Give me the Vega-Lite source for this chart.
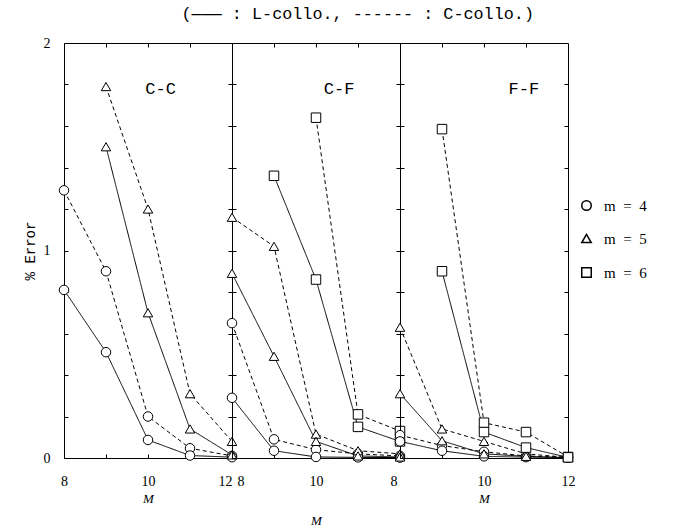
{
  "$schema": "https://vega.github.io/schema/vega-lite/v6.json",
  "background": "white",
  "padding": {"left": 22, "top": 5, "right": 5, "bottom": 5},
  "title": {
    "text": "(——— : L-collo., ------ : C-collo.)",
    "font": "Liberation Mono",
    "fontSize": 16.8,
    "fontWeight": "normal",
    "color": "black",
    "anchor": "start",
    "dx": 159,
    "offset": 13
  },
  "data": {
    "values": [
      {"panel": "C-C", "m": 4, "method": "C", "M": 8, "err": 1.29},
      {"panel": "C-C", "m": 4, "method": "C", "M": 9, "err": 0.9},
      {"panel": "C-C", "m": 4, "method": "C", "M": 10, "err": 0.2},
      {"panel": "C-C", "m": 4, "method": "C", "M": 11, "err": 0.047},
      {"panel": "C-C", "m": 4, "method": "C", "M": 12, "err": 0.01},
      {"panel": "C-C", "m": 4, "method": "L", "M": 8, "err": 0.81},
      {"panel": "C-C", "m": 4, "method": "L", "M": 9, "err": 0.51},
      {"panel": "C-C", "m": 4, "method": "L", "M": 10, "err": 0.087},
      {"panel": "C-C", "m": 4, "method": "L", "M": 11, "err": 0.012},
      {"panel": "C-C", "m": 4, "method": "L", "M": 12, "err": 0.004},
      {"panel": "C-C", "m": 5, "method": "C", "M": 9, "err": 1.79},
      {"panel": "C-C", "m": 5, "method": "C", "M": 10, "err": 1.2},
      {"panel": "C-C", "m": 5, "method": "C", "M": 11, "err": 0.31},
      {"panel": "C-C", "m": 5, "method": "C", "M": 12, "err": 0.08},
      {"panel": "C-C", "m": 5, "method": "L", "M": 9, "err": 1.5},
      {"panel": "C-C", "m": 5, "method": "L", "M": 10, "err": 0.7},
      {"panel": "C-C", "m": 5, "method": "L", "M": 11, "err": 0.14},
      {"panel": "C-C", "m": 5, "method": "L", "M": 12, "err": 0.015},

      {"panel": "C-F", "m": 4, "method": "C", "M": 8, "err": 0.65},
      {"panel": "C-F", "m": 4, "method": "C", "M": 9, "err": 0.09},
      {"panel": "C-F", "m": 4, "method": "C", "M": 10, "err": 0.04},
      {"panel": "C-F", "m": 4, "method": "C", "M": 11, "err": 0.02},
      {"panel": "C-F", "m": 4, "method": "C", "M": 12, "err": 0.01},
      {"panel": "C-F", "m": 4, "method": "L", "M": 8, "err": 0.29},
      {"panel": "C-F", "m": 4, "method": "L", "M": 9, "err": 0.035},
      {"panel": "C-F", "m": 4, "method": "L", "M": 10, "err": 0.005},
      {"panel": "C-F", "m": 4, "method": "L", "M": 11, "err": 0.003},
      {"panel": "C-F", "m": 4, "method": "L", "M": 12, "err": 0.002},
      {"panel": "C-F", "m": 5, "method": "C", "M": 8, "err": 1.16},
      {"panel": "C-F", "m": 5, "method": "C", "M": 9, "err": 1.02},
      {"panel": "C-F", "m": 5, "method": "C", "M": 10, "err": 0.115},
      {"panel": "C-F", "m": 5, "method": "C", "M": 11, "err": 0.035},
      {"panel": "C-F", "m": 5, "method": "C", "M": 12, "err": 0.02},
      {"panel": "C-F", "m": 5, "method": "L", "M": 8, "err": 0.89},
      {"panel": "C-F", "m": 5, "method": "L", "M": 9, "err": 0.49},
      {"panel": "C-F", "m": 5, "method": "L", "M": 10, "err": 0.08},
      {"panel": "C-F", "m": 5, "method": "L", "M": 11, "err": 0.01},
      {"panel": "C-F", "m": 5, "method": "L", "M": 12, "err": 0.005},
      {"panel": "C-F", "m": 6, "method": "C", "M": 10, "err": 1.64},
      {"panel": "C-F", "m": 6, "method": "C", "M": 11, "err": 0.21},
      {"panel": "C-F", "m": 6, "method": "C", "M": 12, "err": 0.13},
      {"panel": "C-F", "m": 6, "method": "L", "M": 9, "err": 1.36},
      {"panel": "C-F", "m": 6, "method": "L", "M": 10, "err": 0.86},
      {"panel": "C-F", "m": 6, "method": "L", "M": 11, "err": 0.15},
      {"panel": "C-F", "m": 6, "method": "L", "M": 12, "err": 0.08},

      {"panel": "F-F", "m": 4, "method": "C", "M": 8, "err": 0.11},
      {"panel": "F-F", "m": 4, "method": "C", "M": 9, "err": 0.06},
      {"panel": "F-F", "m": 4, "method": "C", "M": 10, "err": 0.03},
      {"panel": "F-F", "m": 4, "method": "C", "M": 11, "err": 0.01},
      {"panel": "F-F", "m": 4, "method": "C", "M": 12, "err": 0.003},
      {"panel": "F-F", "m": 4, "method": "L", "M": 8, "err": 0.08},
      {"panel": "F-F", "m": 4, "method": "L", "M": 9, "err": 0.035},
      {"panel": "F-F", "m": 4, "method": "L", "M": 10, "err": 0.008},
      {"panel": "F-F", "m": 4, "method": "L", "M": 11, "err": 0.004},
      {"panel": "F-F", "m": 4, "method": "L", "M": 12, "err": 0.002},
      {"panel": "F-F", "m": 5, "method": "C", "M": 8, "err": 0.63},
      {"panel": "F-F", "m": 5, "method": "C", "M": 9, "err": 0.14},
      {"panel": "F-F", "m": 5, "method": "C", "M": 10, "err": 0.08},
      {"panel": "F-F", "m": 5, "method": "C", "M": 11, "err": 0.02},
      {"panel": "F-F", "m": 5, "method": "C", "M": 12, "err": 0.003},
      {"panel": "F-F", "m": 5, "method": "L", "M": 8, "err": 0.31},
      {"panel": "F-F", "m": 5, "method": "L", "M": 9, "err": 0.083},
      {"panel": "F-F", "m": 5, "method": "L", "M": 10, "err": 0.02},
      {"panel": "F-F", "m": 5, "method": "L", "M": 11, "err": 0.008},
      {"panel": "F-F", "m": 5, "method": "L", "M": 12, "err": 0.002},
      {"panel": "F-F", "m": 6, "method": "C", "M": 9, "err": 1.585},
      {"panel": "F-F", "m": 6, "method": "C", "M": 10, "err": 0.17},
      {"panel": "F-F", "m": 6, "method": "C", "M": 11, "err": 0.125},
      {"panel": "F-F", "m": 6, "method": "C", "M": 12, "err": 0.005},
      {"panel": "F-F", "m": 6, "method": "L", "M": 9, "err": 0.9},
      {"panel": "F-F", "m": 6, "method": "L", "M": 10, "err": 0.125},
      {"panel": "F-F", "m": 6, "method": "L", "M": 11, "err": 0.05},
      {"panel": "F-F", "m": 6, "method": "L", "M": 12, "err": 0.003}
    ]
  },
  "spacing": 0,
  "bounds": "flush",
  "hconcat": [
    {
      "width": 168,
      "height": 415,
      "layer": [
        {
          "transform": [{"filter": "datum.panel === 'C-C'"}],
          "mark": {"type": "line", "color": "black", "strokeWidth": 1},
          "encoding": {
            "x": {"field": "M", "type": "quantitative", "scale": {"domain": [8, 12]},
              "axis": {"orient": "bottom", "values": [8, 9, 10, 11, 12], "tickSize": 4, "offset": -4,
                "labelExpr": "datum.value % 2 === 0 ? datum.label : ''",
                "labelAlign": {"condition": {"test": "datum.value === 12", "value": "right"}, "value": "center"},
                "labelPadding": 16, "title": "M", "titlePadding": 4}},
            "y": {"field": "err", "type": "quantitative", "scale": {"domain": [0, 2]},
              "axis": {"orient": "left", "values": [0, 0.2, 0.4, 0.6, 0.8, 1, 1.2, 1.4, 1.6, 1.8, 2],
                "tickSize": 4, "offset": -4, "labelOverlap": false,
                "labelExpr": "datum.value === 0 ? '0' : datum.value === 1 ? '1' : datum.value === 2 ? '2' : ''",
                "labelFontSize": {"condition": {"test": "datum.value === 0 || datum.value === 1 || datum.value === 2", "value": 14}, "value": 1},
                "labelPadding": 14, "title": "% Error", "titlePadding": 6}},
            "detail": {"field": "m"},
            "strokeDash": {"field": "method", "type": "nominal", "scale": {"domain": ["L", "C"], "range": [[1, 0], [4, 3]]}, "legend": null}
          }
        },
        {
          "transform": [{"filter": "datum.panel === 'C-C'"}],
          "mark": {"type": "point", "filled": false, "fill": "white", "fillOpacity": 1, "stroke": "black", "strokeWidth": 1, "size": 90, "opacity": 1},
          "encoding": {
            "x": {"field": "M", "type": "quantitative",
              "axis": {"orient": "top", "values": [9, 10, 11], "tickSize": 4, "offset": -4, "labels": false, "title": null}},
            "y": {"field": "err", "type": "quantitative",
              "axis": {"orient": "right", "values": [0.2, 0.4, 0.6, 0.8, 1, 1.2, 1.4, 1.6, 1.8], "tickSize": 4, "labels": false, "title": null}},
            "shape": {"field": "m", "type": "nominal",
              "scale": {"domain": [4, 5, 6], "range": ["circle", "triangle-up", "square"]},
              "legend": {"title": null, "orient": "none", "legendX": 515, "legendY": 155, "labelExpr": "'m\u2002=\u2002' + datum.label",
                "encode": {"symbols": {"enter": {"stroke": {"value": "black"}, "fill": {"value": "white"}, "strokeWidth": {"value": 1}}, "update": {"stroke": {"value": "black"}, "fill": {"value": "white"}, "strokeWidth": {"value": 1}, "opacity": {"value": 1}}}}}}
          }
        },
        {
          "data": {"values": [{"label": "C-C"}]},
          "mark": {"type": "text", "font": "Liberation Mono", "fontSize": 17, "color": "black"},
          "encoding": {"x": {"datum": 10.3, "type": "quantitative", "axis": null}, "y": {"datum": 1.78, "type": "quantitative", "axis": null}, "text": {"field": "label"}}
        }
      ]
    },
    {
      "width": 168,
      "height": 415,
      "layer": [
        {
          "transform": [{"filter": "datum.panel === 'C-F'"}],
          "mark": {"type": "line", "color": "black", "strokeWidth": 1},
          "encoding": {
            "x": {"field": "M", "type": "quantitative", "scale": {"domain": [8, 12]},
              "axis": {"orient": "bottom", "values": [8, 9, 10, 11, 12], "tickSize": 4, "offset": -4,
                "labelExpr": "datum.value === 8 || datum.value === 10 ? datum.label : ''",
                "labelAlign": {"condition": {"test": "datum.value === 8", "value": "left"}, "value": "center"},
                "labelOffset": {"condition": {"test": "datum.value === 8", "value": 5}, "value": 0},
                "labelPadding": 16, "title": "M", "titlePadding": 26}},
            "y": {"field": "err", "type": "quantitative", "scale": {"domain": [0, 2]},
              "axis": {"orient": "left", "values": [0.2, 0.4, 0.6, 0.8, 1, 1.2, 1.4, 1.6, 1.8], "tickSize": 4, "labels": false, "title": null}},
            "detail": {"field": "m"},
            "strokeDash": {"field": "method", "type": "nominal", "scale": {"domain": ["L", "C"], "range": [[1, 0], [4, 3]]}, "legend": null}
          }
        },
        {
          "transform": [{"filter": "datum.panel === 'C-F'"}],
          "mark": {"type": "point", "filled": false, "fill": "white", "fillOpacity": 1, "stroke": "black", "strokeWidth": 1, "size": 90, "opacity": 1},
          "encoding": {
            "x": {"field": "M", "type": "quantitative",
              "axis": {"orient": "top", "values": [9, 10, 11], "tickSize": 4, "offset": -4, "labels": false, "title": null}},
            "y": {"field": "err", "type": "quantitative",
              "axis": {"orient": "right", "values": [0.2, 0.4, 0.6, 0.8, 1, 1.2, 1.4, 1.6, 1.8], "tickSize": 4, "labels": false, "title": null}},
            "shape": {"field": "m", "type": "nominal",
              "scale": {"domain": [4, 5, 6], "range": ["circle", "triangle-up", "square"]},
              "legend": {"title": null, "orient": "none", "legendX": 515, "legendY": 155, "labelExpr": "'m\u2002=\u2002' + datum.label",
                "encode": {"symbols": {"enter": {"stroke": {"value": "black"}, "fill": {"value": "white"}, "strokeWidth": {"value": 1}}, "update": {"stroke": {"value": "black"}, "fill": {"value": "white"}, "strokeWidth": {"value": 1}, "opacity": {"value": 1}}}}}}
          }
        },
        {
          "data": {"values": [{"label": "C-F"}]},
          "mark": {"type": "text", "font": "Liberation Mono", "fontSize": 17, "color": "black"},
          "encoding": {"x": {"datum": 10.55, "type": "quantitative", "axis": null}, "y": {"datum": 1.78, "type": "quantitative", "axis": null}, "text": {"field": "label"}}
        }
      ]
    },
    {
      "width": 168,
      "height": 415,
      "layer": [
        {
          "transform": [{"filter": "datum.panel === 'F-F'"}],
          "mark": {"type": "line", "color": "black", "strokeWidth": 1},
          "encoding": {
            "x": {"field": "M", "type": "quantitative", "scale": {"domain": [8, 12]},
              "axis": {"orient": "bottom", "values": [8, 9, 10, 11, 12], "tickSize": 4, "offset": -4,
                "labelExpr": "datum.value % 2 === 0 ? datum.label : ''",
                "labelAlign": {"condition": {"test": "datum.value === 8", "value": "right"}, "value": "center"},
                "labelOffset": {"condition": {"test": "datum.value === 8", "value": -3}, "value": 0},
                "labelPadding": 16, "title": "M", "titlePadding": 4}},
            "y": {"field": "err", "type": "quantitative", "scale": {"domain": [0, 2]},
              "axis": {"orient": "left", "values": [0.2, 0.4, 0.6, 0.8, 1, 1.2, 1.4, 1.6, 1.8], "tickSize": 4, "labels": false, "title": null}},
            "detail": {"field": "m"},
            "strokeDash": {"field": "method", "type": "nominal", "scale": {"domain": ["L", "C"], "range": [[1, 0], [4, 3]]}, "legend": null}
          }
        },
        {
          "transform": [{"filter": "datum.panel === 'F-F'"}],
          "mark": {"type": "point", "filled": false, "fill": "white", "fillOpacity": 1, "stroke": "black", "strokeWidth": 1, "size": 90, "opacity": 1},
          "encoding": {
            "x": {"field": "M", "type": "quantitative",
              "axis": {"orient": "top", "values": [9, 10, 11], "tickSize": 4, "offset": -4, "labels": false, "title": null}},
            "y": {"field": "err", "type": "quantitative",
              "axis": {"orient": "right", "values": [0.2, 0.4, 0.6, 0.8, 1, 1.2, 1.4, 1.6, 1.8], "tickSize": 4, "offset": -4, "labels": false, "title": null}},
            "shape": {"field": "m", "type": "nominal",
              "scale": {"domain": [4, 5, 6], "range": ["circle", "triangle-up", "square"]},
              "legend": {"title": null, "orient": "none", "legendX": 515, "legendY": 155, "labelExpr": "'m\u2002=\u2002' + datum.label",
                "encode": {"symbols": {"enter": {"stroke": {"value": "black"}, "fill": {"value": "white"}, "strokeWidth": {"value": 1}}, "update": {"stroke": {"value": "black"}, "fill": {"value": "white"}, "strokeWidth": {"value": 1}, "opacity": {"value": 1}}}}}}
          }
        },
        {
          "data": {"values": [{"label": "F-F"}]},
          "mark": {"type": "text", "font": "Liberation Mono", "fontSize": 17, "color": "black"},
          "encoding": {"x": {"datum": 10.95, "type": "quantitative", "axis": null}, "y": {"datum": 1.78, "type": "quantitative", "axis": null}, "text": {"field": "label"}}
        }
      ]
    }
  ],
  "config": {
    "view": {"stroke": "black", "strokeWidth": 1},
    "axis": {
      "domain": false,
      "grid": false,
      "tickColor": "black",
      "tickWidth": 1,
      "labelColor": "black",
      "labelFont": "Liberation Serif",
      "labelFontSize": 14,
      "titleColor": "black",
      "titleFontWeight": "normal"
    },
    "axisX": {"titleFont": "Liberation Serif", "titleFontStyle": "italic", "titleFontSize": 13},
    "axisY": {"titleFont": "Liberation Mono", "titleFontSize": 14},
    "legend": {
      "labelFont": "Liberation Serif",
      "labelFontSize": 15,
      "labelColor": "black",
      "symbolSize": 90,
      "rowPadding": 17,
      "labelOffset": 10
    }
  }
}
